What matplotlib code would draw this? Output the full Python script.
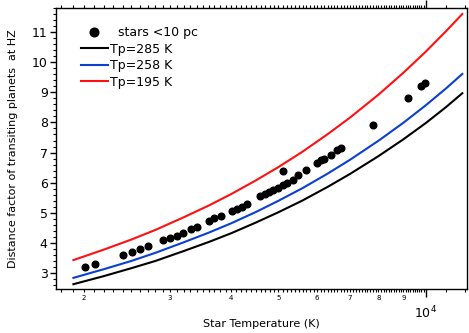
import matplotlib
matplotlib.use('Agg')
import matplotlib.pyplot as plt
from matplotlib.ticker import FixedLocator, FuncFormatter, MultipleLocator

# stars closer than 10 pc
star_temp = [2012, 2105, 2406, 2506, 2602, 2702, 2906, 2999, 3095, 3192,
             3310, 3410, 3609, 3690, 3808, 4009, 4104, 4202, 4315, 4582,
             4690, 4786, 4877, 4993, 5096, 5111, 5208, 5358, 5485, 5688,
             5983, 6096, 6199, 6398, 6590, 6697, 7787, 9180, 9774, 9976]
star_dist = [3.19, 3.31, 3.61, 3.71, 3.80, 3.89, 4.09, 4.16, 4.24, 4.34,
             4.47, 4.54, 4.74, 4.82, 4.89, 5.06, 5.13, 5.19, 5.30, 5.56,
             5.63, 5.68, 5.76, 5.83, 6.39, 5.91, 5.98, 6.09, 6.26, 6.42,
             6.66, 6.75, 6.80, 6.92, 7.09, 7.15, 7.91, 8.82, 9.21, 9.32]

# curves for the planet temperatures
curve_temp = [1905, 2200, 2500, 2800, 3200, 3600, 4000, 4500, 5000, 5600,
              6300, 7000, 8000, 9000, 10000, 11000, 11876]
tp285 = [2.63, 2.90, 3.16, 3.40, 3.73, 4.03, 4.32, 4.68, 5.02, 5.41,
         5.86, 6.29, 6.88, 7.44, 7.98, 8.51, 8.97]
tp258 = [2.84, 3.13, 3.40, 3.67, 4.02, 4.34, 4.65, 5.03, 5.40, 5.82,
         6.30, 6.76, 7.39, 7.99, 8.57, 9.13, 9.61]
tp195 = [3.43, 3.78, 4.11, 4.43, 4.85, 5.24, 5.62, 6.08, 6.52, 7.03,
         7.61, 8.16, 8.92, 9.65, 10.35, 11.03, 11.60]

xtick_vals = [2000, 3000, 4000, 5000, 6000, 7000, 8000, 9000]
xtick_labels = ['2', '3', '4', '5', '6', '7', '8', '9']

fig = plt.figure(figsize=(4.69, 3.33), dpi=100)
ax = fig.add_axes([0.1194, 0.1321, 0.8763, 0.8439])

ax.plot(star_temp, star_dist, 'o', color='black', ms=4.8, label='  stars <10 pc')
ax.plot(curve_temp, tp285, color='black', lw=1.5, label='Tp=285 K')
ax.plot(curve_temp, tp258, color='#0a3fcf', lw=1.5, label='Tp=258 K')
ax.plot(curve_temp, tp195, color='#ff1010', lw=1.5, label='Tp=195 K')

ax.set_xscale('log')
ax.set_xlim(1755, 12140)
ax.set_ylim(2.47, 11.8)

# x ticks: long tick at 10^4, small ticks every 100 K
ax.xaxis.set_major_locator(FixedLocator([10000]))
ax.xaxis.set_major_formatter(FuncFormatter(lambda v, p: ''))
minor_pos = list(range(1800, 10000, 100)) + [11000, 12000]
ax.xaxis.set_minor_locator(FixedLocator(minor_pos))
lab = dict(zip(xtick_vals, xtick_labels))
ax.xaxis.set_minor_formatter(FuncFormatter(lambda v, p: lab.get(int(round(v)), '')))
ax.tick_params(axis='x', which='major', direction='out', length=6, width=1, top=True)
ax.tick_params(axis='x', which='minor', direction='out', length=2.5, width=0.8,
               top=True, labelsize=5, pad=2)
ax.text(10000, -0.085, r'10$^4$', transform=ax.get_xaxis_transform(),
        ha='center', va='center', fontsize=9)

ax.yaxis.set_major_locator(MultipleLocator(1))
ax.yaxis.set_minor_locator(MultipleLocator(0.2))
ax.tick_params(axis='y', which='major', direction='out', length=4, width=1, labelsize=9, pad=2)
ax.tick_params(axis='y', which='minor', direction='out', length=2, width=0.8)

for s in ax.spines.values():
    s.set_linewidth(1.0)

ax.set_xlabel('Star Temperature (K)', fontsize=8, labelpad=12)
ax.set_ylabel('Distance factor of transiting planets  at HZ', fontsize=8, labelpad=10)

ax.legend(loc='upper left', bbox_to_anchor=(0.06, 0.935), frameon=False, fontsize=9,
          handlelength=2.2, handletextpad=0.15, labelspacing=0.28, borderpad=0,
          borderaxespad=0, markerscale=1.3)

fig.savefig('out.png', dpi=100)
